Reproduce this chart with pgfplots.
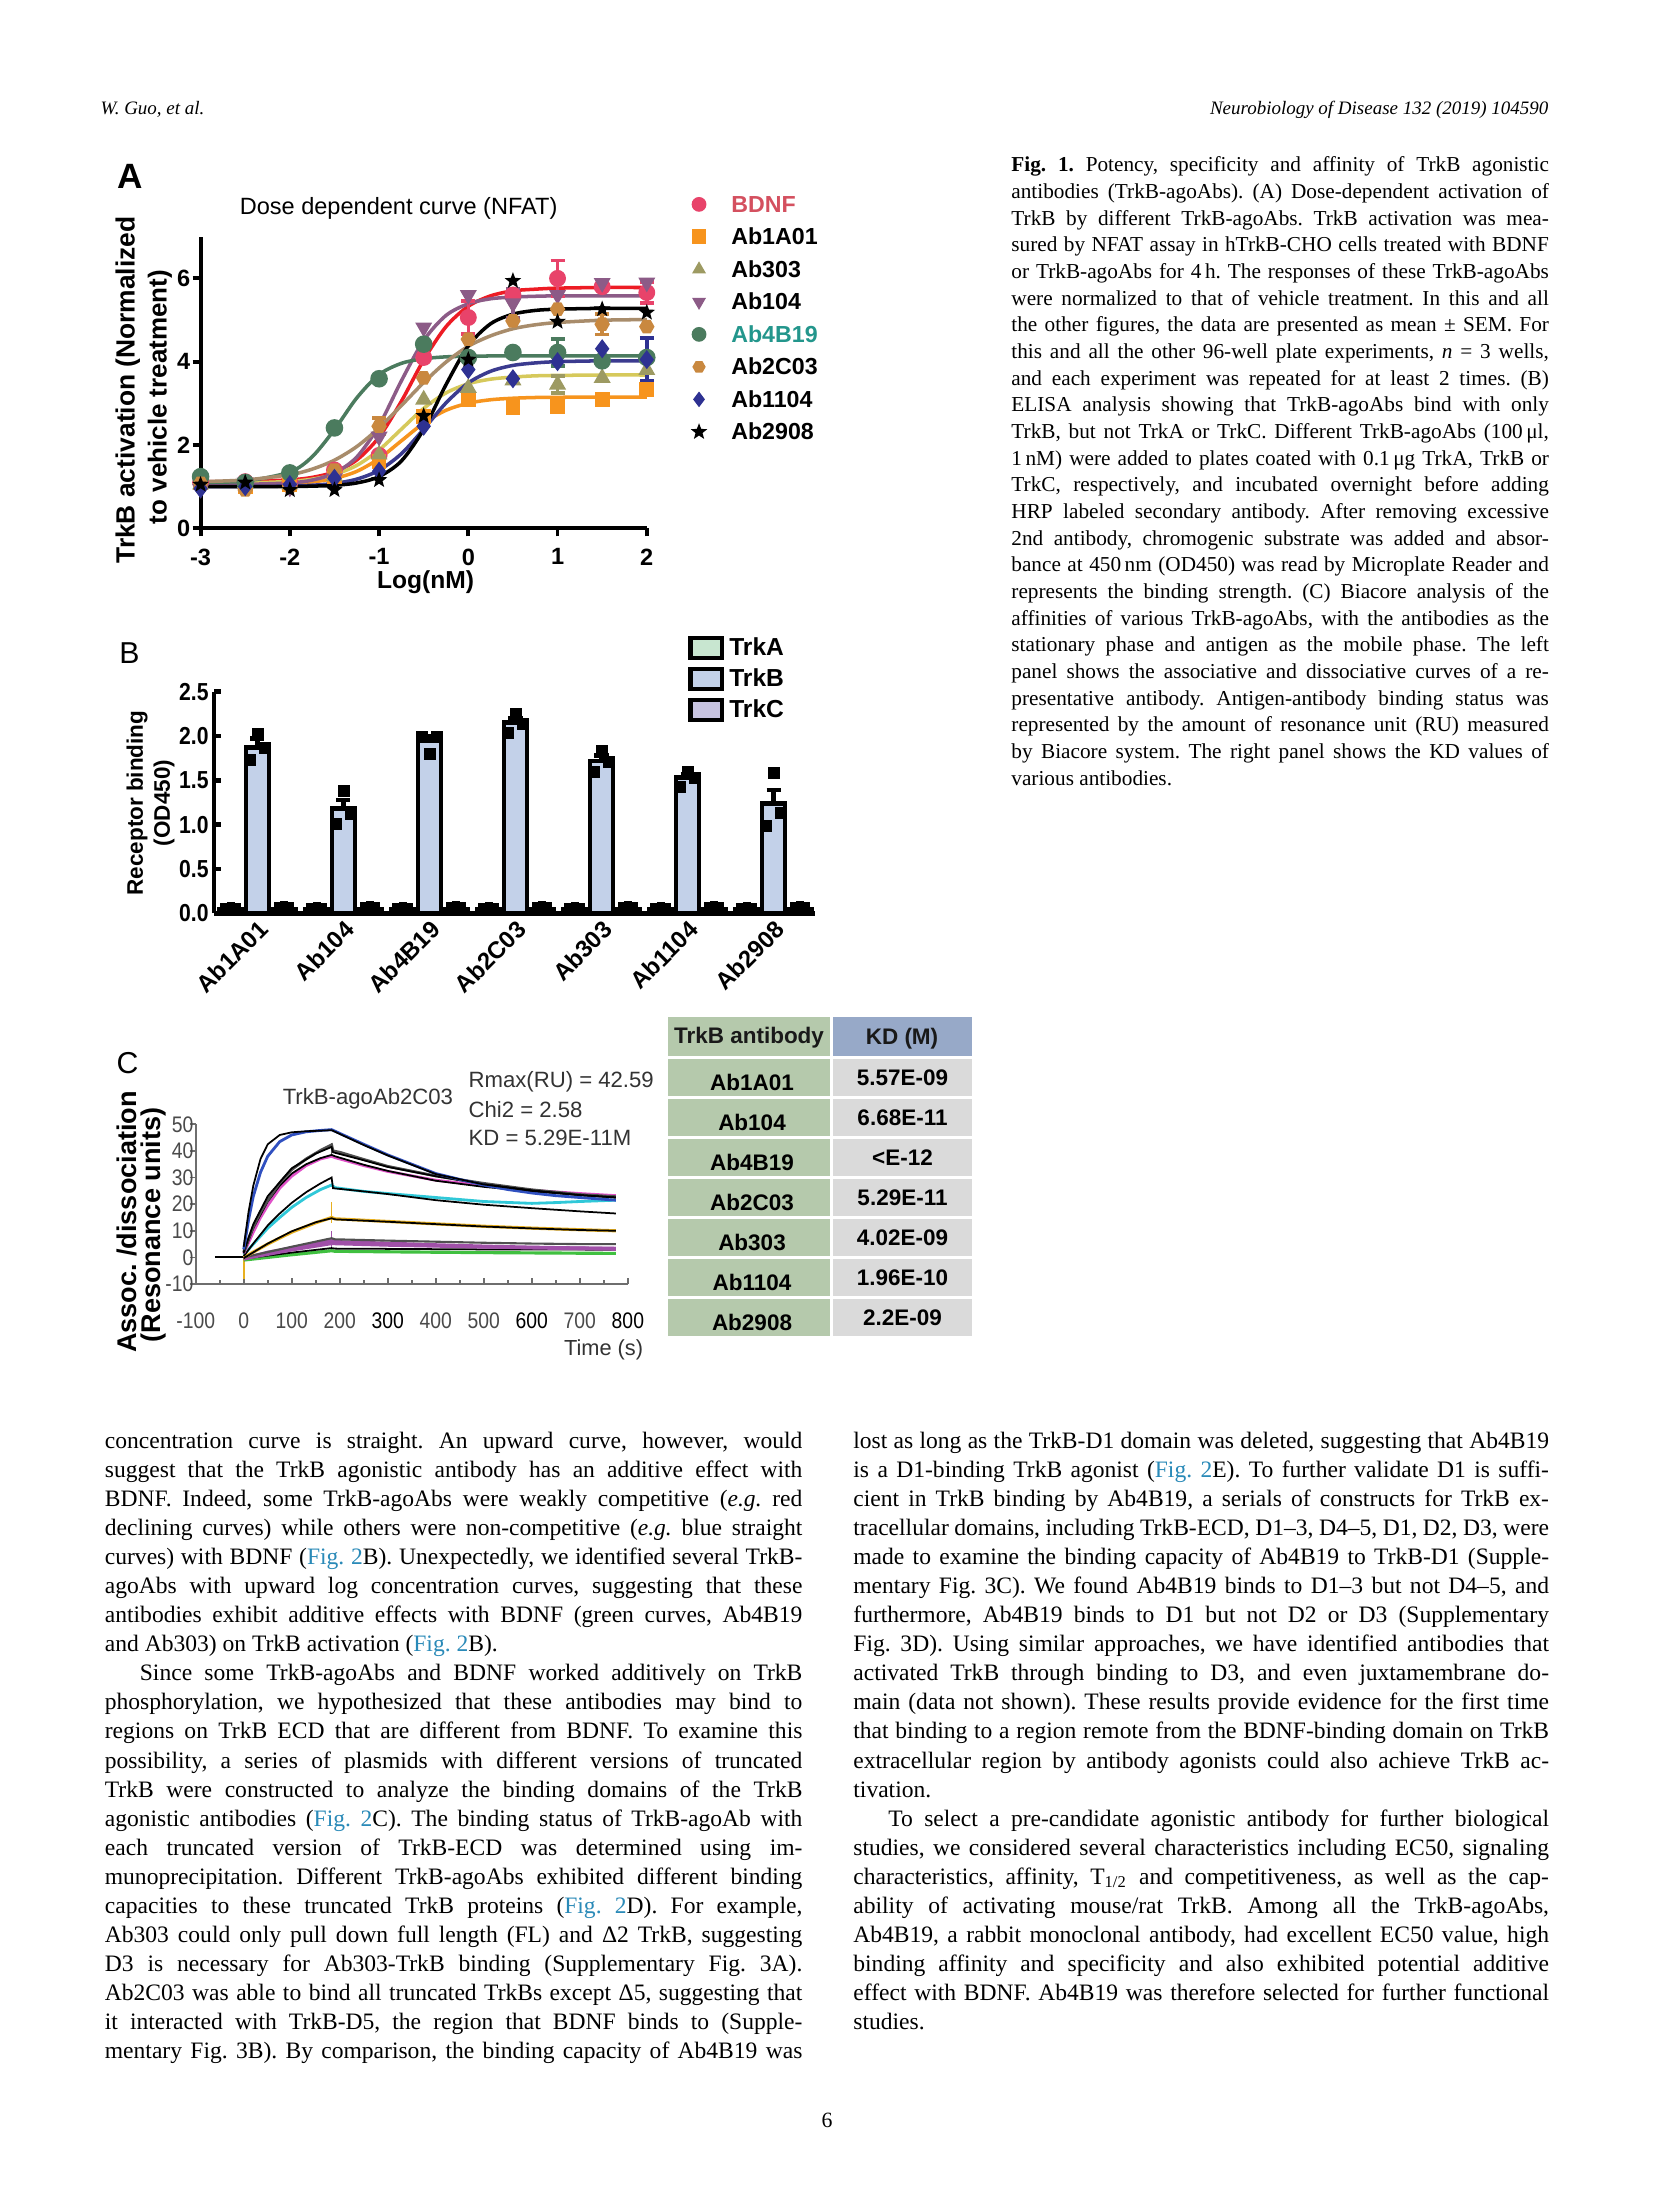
\documentclass[border=0pt]{standalone}
\usepackage{fontspec}
\setmainfont{Liberation Serif}
\newfontfamily\sans{Liberation Sans}
\newfontfamily\sansn[FakeStretch=0.86]{Liberation Sans}
\usepackage{xcolor}
\usepackage{pgfplots}
\pgfplotsset{compat=1.18}
\usetikzlibrary{plotmarks}
\frenchspacing

\definecolor{bdnfm}{HTML}{E8436A}
\definecolor{bdnfl}{HTML}{ED1C24}
\definecolor{bdnftxt}{HTML}{D4505F}
\definecolor{orgm}{HTML}{F7941D}
\definecolor{olvm}{HTML}{9D9A62}
\definecolor{olvl}{HTML}{D6C95B}
\definecolor{mauve}{HTML}{8C5B87}
\definecolor{grnm}{HTML}{4B7B5E}
\definecolor{tealtxt}{HTML}{23968C}
\definecolor{tanm}{HTML}{C9883F}
\definecolor{tanl}{HTML}{A88C6B}
\definecolor{navy}{HTML}{2E3192}
\definecolor{navyl}{HTML}{3B3B8F}
\definecolor{trka}{HTML}{C8E6D0}
\definecolor{trkb}{HTML}{C3D1E9}
\definecolor{trkc}{HTML}{C7C3E0}
\definecolor{cg}{HTML}{4A4A4A}
\definecolor{ctx}{HTML}{333333}
\definecolor{cax}{HTML}{6E6E6E}
\definecolor{cblue}{HTML}{3050C0}
\definecolor{cdark}{HTML}{505050}
\definecolor{cpink}{HTML}{E050C8}
\definecolor{ccyan}{HTML}{30C8D8}
\definecolor{cyel}{HTML}{E8B020}
\definecolor{cpur}{HTML}{A050A8}
\definecolor{cgrn}{HTML}{40C040}
\definecolor{tgreen}{HTML}{B5C9AC}
\definecolor{tblue}{HTML}{97A9C8}
\definecolor{tgray}{HTML}{DADADA}
\definecolor{linkblue}{HTML}{2A8AB8}

% filled five-pointed star and hexagon marks
\pgfdeclareplotmark{fstar}{%
  \pgfpathmoveto{\pgfpointpolar{90}{1.3\pgfplotmarksize}}%
  \pgfpathlineto{\pgfpointpolar{126}{0.55\pgfplotmarksize}}%
  \pgfpathlineto{\pgfpointpolar{162}{1.3\pgfplotmarksize}}%
  \pgfpathlineto{\pgfpointpolar{198}{0.55\pgfplotmarksize}}%
  \pgfpathlineto{\pgfpointpolar{234}{1.3\pgfplotmarksize}}%
  \pgfpathlineto{\pgfpointpolar{270}{0.55\pgfplotmarksize}}%
  \pgfpathlineto{\pgfpointpolar{306}{1.3\pgfplotmarksize}}%
  \pgfpathlineto{\pgfpointpolar{342}{0.55\pgfplotmarksize}}%
  \pgfpathlineto{\pgfpointpolar{18}{1.3\pgfplotmarksize}}%
  \pgfpathlineto{\pgfpointpolar{54}{0.55\pgfplotmarksize}}%
  \pgfpathclose\pgfusepathqfill}
\pgfdeclareplotmark{hex}{%
  \pgfpathmoveto{\pgfpointpolar{0}{\pgfplotmarksize}}%
  \pgfpathlineto{\pgfpointpolar{60}{\pgfplotmarksize}}%
  \pgfpathlineto{\pgfpointpolar{120}{\pgfplotmarksize}}%
  \pgfpathlineto{\pgfpointpolar{180}{\pgfplotmarksize}}%
  \pgfpathlineto{\pgfpointpolar{240}{\pgfplotmarksize}}%
  \pgfpathlineto{\pgfpointpolar{300}{\pgfplotmarksize}}%
  \pgfpathclose\pgfusepathqfill}

\pgfplotsset{
  eb/.style={error bars/.cd, y dir=both, y explicit,
    error bar style={line width=1pt, #1},
    error mark options={rotate=90, mark size=2pt, line width=1pt, #1}},
  fit/.style={smooth, line width=1pt, #1, forget plot},
}

% text lines: body (left/right), caption
\newcommand\fig{\textcolor{linkblue}{Fig.~2}}
\newcommand\BL[2]{\node[anchor=base west,inner sep=0pt] at (104.2,{1448.3+29.06*#1}) {\makebox[69.75mm][s]{#2}};}
\newcommand\BLi[2]{\node[anchor=base west,inner sep=0pt] at (139.2,{1448.3+29.06*#1}) {\makebox[66.25mm][s]{#2}};}
\newcommand\BLe[2]{\node[anchor=base west,inner sep=0pt] at (104.2,{1448.3+29.06*#1}) {#2};}
\newcommand\BR[2]{\node[anchor=base west,inner sep=0pt] at (852.7,{1448.3+29.06*#1}) {\makebox[69.56mm][s]{#2}};}
\newcommand\BRi[2]{\node[anchor=base west,inner sep=0pt] at (887.7,{1448.3+29.06*#1}) {\makebox[66.06mm][s]{#2}};}
\newcommand\BRe[2]{\node[anchor=base west,inner sep=0pt] at (852.7,{1448.3+29.06*#1}) {#2};}
\newcommand\CL[2]{\node[anchor=base west,inner sep=0pt] at (1010.7,{171.7+26.67*#1}) {\makebox[53.75mm][s]{#2}};}
\newcommand\CLe[2]{\node[anchor=base west,inner sep=0pt] at (1010.7,{171.7+26.67*#1}) {#2};}

\begin{document}
\begin{tikzpicture}
\path[use as bounding box, fill=white] (0,0) rectangle (165.4mm,-220.5mm);

% ---------------- Panel A ----------------
\begin{axis}[
  at={(20.06mm,-52.83mm)}, anchor=south west,
  scale only axis, width=44.62mm, height=29.16mm,
  xmin=-3, xmax=2, ymin=0, ymax=7,
  axis x line=bottom, axis y line=left,
  axis line style={-, line width=1.1pt},
  xtick={-3,-2,-1,0,1,2}, xticklabels={-3,-2,-1,0,1,2},
  ytick={0,2,4,6}, yticklabels={0,2,4,6},
  tick align=outside, major tick length=0.8mm,
  tick style={line width=1.1pt, black},
  tick label style={font=\sans\bfseries\fontsize{6.7}{8}\selectfont},
  yticklabel style={xshift=1mm},
  clip=false,
  legend cell align=left,
  legend image code/.code={\draw[#1, mark size=1.9pt] plot coordinates {(0mm,0mm)};},
  legend style={at={(1.097,1.169)}, anchor=north west, draw=none, fill=none,
    inner sep=0pt, row sep=0pt,
    font=\sans\bfseries\fontsize{6.6}{7}\selectfont,
    nodes={inner sep=0pt, text height=2.4mm, text depth=0.85mm},
    /tikz/every odd column/.append style={column sep=2.4mm}},
]
% fitted curves
\addplot[fit=bdnfl] coordinates {(-3,1.12)(-2.5,1.128)(-2,1.163)(-1.75,1.222)(-1.5,1.355)(-1.25,1.64)(-1,2.19)(-0.75,3.05)(-0.5,4.04)(-0.25,4.84)(0,5.33)(0.25,5.58)(0.5,5.70)(0.75,5.74)(1,5.765)(1.5,5.78)(2,5.78)};
\addplot[fit=orgm] coordinates {(-3,1.05)(-2.5,1.055)(-2,1.078)(-1.75,1.114)(-1.5,1.197)(-1.25,1.367)(-1,1.674)(-0.75,2.10)(-0.5,2.526)(-0.25,2.833)(0,3.003)(0.25,3.086)(0.5,3.122)(0.75,3.14)(1,3.145)(1.5,3.15)(2,3.15)};
\addplot[fit=olvl] coordinates {(-3,1.08)(-2.5,1.089)(-2,1.126)(-1.75,1.18)(-1.5,1.293)(-1.25,1.51)(-1,1.88)(-0.75,2.38)(-0.5,2.88)(-0.25,3.25)(0,3.47)(0.25,3.58)(0.5,3.63)(0.75,3.66)(1,3.67)(1.5,3.68)(2,3.68)};
\addplot[fit=mauve] coordinates {(-3,1.05)(-2.5,1.056)(-2,1.09)(-1.75,1.157)(-1.5,1.325)(-1.25,1.71)(-1,2.47)(-0.75,3.54)(-0.5,4.51)(-0.25,5.11)(0,5.39)(0.25,5.51)(0.5,5.55)(0.75,5.57)(1,5.58)(1.5,5.58)(2,5.58)};
\addplot[fit=grnm] coordinates {(-3,1.105)(-2.5,1.134)(-2,1.352)(-1.75,1.717)(-1.5,2.37)(-1.25,3.13)(-1,3.69)(-0.75,3.96)(-0.5,4.07)(-0.25,4.116)(0,4.13)(0.25,4.137)(0.5,4.14)(0.75,4.14)(1,4.14)(1.5,4.14)(2,4.14)};
\addplot[fit=tanl] coordinates {(-3,1.12)(-2.5,1.161)(-2,1.287)(-1.75,1.42)(-1.5,1.636)(-1.25,1.962)(-1,2.41)(-0.75,2.947)(-0.5,3.50)(-0.25,3.99)(0,4.37)(0.25,4.62)(0.5,4.79)(0.75,4.885)(1,4.94)(1.5,4.995)(2,5.01)};
\addplot[fit=navyl] coordinates {(-3,1.0)(-2.5,1.0025)(-2,1.014)(-1.75,1.034)(-1.5,1.078)(-1.25,1.18)(-1,1.393)(-0.75,1.79)(-0.5,2.38)(-0.25,3.01)(0,3.49)(0.25,3.77)(0.5,3.91)(0.75,3.97)(1,4.0)(1.5,4.02)(2,4.02)};
\addplot[fit=black] coordinates {(-3,1.0)(-2.5,1.0)(-2,1.004)(-1.75,1.012)(-1.5,1.032)(-1.25,1.089)(-1,1.241)(-0.75,1.616)(-0.5,2.377)(-0.25,3.448)(0,4.38)(0.25,4.91)(0.5,5.14)(0.75,5.23)(1,5.26)(1.5,5.28)(2,5.28)};
% measured points
\addplot[only marks, mark=*, mark size=2.2pt, color=bdnfm, eb=bdnfm] coordinates {(-3,1.1)(-2.5,1.12)(-2,1.1)(-1.5,1.4)(-1,1.75)(-0.5,4.1)(0,5.06) +- (0,0.4) (0.5,5.6)(1,6.0) +- (0,0.43) (1.5,5.8)(2,5.66) +- (0,0.25)};
\addlegendentry{\textcolor{bdnftxt}{BDNF}}
\addplot[only marks, mark=square*, mark size=1.9pt, color=orgm, eb=orgm] coordinates {(-3,1.1)(-2.5,1.0)(-2,1.05)(-1.5,1.24)(-1,1.6)(-0.5,2.69)(0,3.1)(0.5,2.93) +- (0,0.17) (1,2.93)(1.5,3.09)(2,3.33)};
\addlegendentry{Ab1A01}
\addplot[only marks, mark=triangle*, mark size=2.4pt, color=olvm, eb=olvm] coordinates {(-3,1.05)(-2.5,1.08)(-2,1.05)(-1.5,1.25)(-1,1.77)(-0.5,3.09)(0,3.37)(0.5,3.55)(1,3.45) +- (0,0.2) (1.5,3.61)(2,3.8)};
\addlegendentry{Ab303}
\addplot[only marks, mark=triangle*, mark options={rotate=180}, mark size=2.4pt, color=mauve, eb=mauve] coordinates {(-3,0.95)(-2.5,1.1)(-2,0.98)(-1.5,1.2)(-1,2.2)(-0.5,4.82)(0,5.6)(0.5,5.4) +- (0,0.35) (1,5.6)(1.5,5.89)(2,5.9)};
\addlegendentry{Ab104}
\addplot[only marks, mark=*, mark size=2.3pt, color=grnm, eb=grnm] coordinates {(-3,1.24)(-2.5,1.1)(-2,1.33)(-1.5,2.41)(-1,3.59)(-0.5,4.42)(0,4.1)(0.5,4.22)(1,4.22) +- (0,0.32) (1.5,4.02)(2,4.1)};
\addlegendentry{\textcolor{tealtxt}{Ab4B19}}
\addplot[only marks, mark=hex, mark size=2.2pt, color=tanm, eb=tanm] coordinates {(-3,1.08)(-2.5,0.92)(-2,1.0)(-1.5,1.4)(-1,2.45) +- (0,0.2) (-0.5,3.61)(0,4.54)(0.5,4.98)(1,5.26)(1.5,4.9) +- (0,0.25) (2,4.84)};
\addlegendentry{Ab2C03}
\addplot[only marks, mark=diamond*, mark size=2.4pt, color=navy, eb=navy] coordinates {(-3,0.95)(-2.5,1.0)(-2,1.05)(-1.5,1.2)(-1,1.37)(-0.5,2.45)(0,3.81)(0.5,3.59)(1,4.0)(1.5,4.31)(2,4.05) +- (0,0.52)};
\addlegendentry{Ab1104}
\addplot[only marks, mark=fstar, mark size=1.9pt, color=black, eb=black] coordinates {(-3,1.05)(-2.5,1.1)(-2,0.92)(-1.5,0.92)(-1,1.16)(-0.5,2.7)(0,4.05)(0.5,5.94)(1,4.96)(1.5,5.26)(2,5.18)};
\addlegendentry{Ab2908}
\end{axis}

% ---------------- Panel B ----------------
\begin{axis}[
  at={(21.4mm,-91.33mm)}, anchor=south west,
  scale only axis, width=60.06mm, height=22.16mm,
  xmin=-0.5045, xmax=6.477, ymin=0, ymax=2.5,
  axis x line=bottom, axis y line=left,
  axis line style={-, line width=1.4pt},
  xtick={0,...,6}, xticklabels={Ab1A01,Ab104,Ab4B19,Ab2C03,Ab303,Ab1104,Ab2908},
  xtick style={draw=none},
  ytick={0,0.5,1,1.5,2,2.5}, yticklabels={0.0,0.5,1.0,1.5,2.0,2.5},
  tick align=inside, major tick length=0.7mm,
  ytick style={line width=1.4pt, black},
  yticklabel style={font=\sansn\bfseries\fontsize{7}{8}\selectfont, xshift=0.7mm},
  xticklabel style={font=\sans\bfseries\fontsize{6.8}{8}\selectfont, rotate=45, anchor=north east, inner sep=1pt},
  clip=false,
  legend cell align=left,
  legend style={at={(0.7884,1.2694)}, anchor=north west, draw=none, fill=none,
    inner sep=0pt, row sep=0pt,
    font=\sans\bfseries\fontsize{7}{8}\selectfont,
    nodes={inner sep=0pt, text height=2.3mm, text depth=0.8mm},
    /tikz/every odd column/.append style={column sep=0.5mm}},
]
\addlegendimage{legend image code/.code={\draw[line width=1.3pt, fill=trka] (0mm,-1mm) rectangle (3.15mm,1mm);}}
\addlegendentry{TrkA}
\addlegendimage{legend image code/.code={\draw[line width=1.3pt, fill=trkb] (0mm,-1mm) rectangle (3.15mm,1mm);}}
\addlegendentry{TrkB}
\addlegendimage{legend image code/.code={\draw[line width=1.3pt, fill=trkc] (0mm,-1mm) rectangle (3.15mm,1mm);}}
\addlegendentry{TrkC}
\addplot[ybar, bar width=2.3mm, bar shift=-2.7mm, fill=trka, draw=black, line width=1.3pt, forget plot]
  coordinates {(0,0.05)(1,0.05)(2,0.05)(3,0.05)(4,0.05)(5,0.05)(6,0.05)};
\addplot[ybar, bar width=2.3mm, bar shift=0mm, fill=trkb, draw=black, line width=1.3pt, forget plot,
  error bars/.cd, y dir=plus, y explicit, error bar style={line width=1.3pt, black},
  error mark options={rotate=90, mark size=2pt, line width=1.3pt, black}]
  coordinates {(0,1.87) +- (0,0.1) (1,1.18) +- (0,0.1) (2,1.95) +- (0,0.05) (3,2.15) +- (0,0.05) (4,1.72) +- (0,0.06) (5,1.53) +- (0,0.04) (6,1.24) +- (0,0.15)};
\addplot[ybar, bar width=2.3mm, bar shift=2.7mm, fill=trkc, draw=black, line width=1.3pt, forget plot]
  coordinates {(0,0.05)(1,0.05)(2,0.05)(3,0.05)(4,0.05)(5,0.05)(6,0.05)};
% individual wells
\addplot[only marks, mark=square*, mark size=1.5pt, black, forget plot] coordinates {
  (-0.087,1.73)(0.01,2.02)(0.09,1.86)
  (0.913,1.01)(1.01,1.38)(1.09,1.12)
  (1.913,1.99)(2.01,1.80)(2.09,1.99)
  (2.913,2.03)(3.01,2.25)(3.09,2.14)
  (3.913,1.59)(4.01,1.83)(4.09,1.71)
  (4.913,1.42)(5.01,1.60)(5.09,1.53)
  (5.913,0.99)(6.01,1.58)(6.09,1.13)};
\addplot[only marks, mark=square*, mark size=0.9pt, black, forget plot] coordinates {
  (-0.39,0.07)(-0.31,0.08)(-0.24,0.07)(0.24,0.08)(0.31,0.09)(0.38,0.08)
  (0.61,0.07)(0.69,0.08)(0.76,0.07)(1.24,0.08)(1.31,0.09)(1.38,0.08)
  (1.61,0.07)(1.69,0.08)(1.76,0.07)(2.24,0.08)(2.31,0.09)(2.38,0.08)
  (2.61,0.07)(2.69,0.08)(2.76,0.07)(3.24,0.08)(3.31,0.09)(3.38,0.08)
  (3.61,0.07)(3.69,0.08)(3.76,0.07)(4.24,0.08)(4.31,0.09)(4.38,0.08)
  (4.61,0.07)(4.69,0.08)(4.76,0.07)(5.24,0.08)(5.31,0.09)(5.38,0.08)
  (5.61,0.07)(5.69,0.08)(5.76,0.07)(6.24,0.08)(6.31,0.09)(6.38,0.08)};
\end{axis}

% ---------------- Panel C ----------------
\begin{axis}[
  at={(19.57mm,-128.4mm)}, anchor=south west,
  scale only axis, width=43.22mm, height=15.97mm,
  xmin=-100, xmax=800, ymin=-10, ymax=50,
  axis x line=bottom, axis y line=left,
  axis line style={-, cax, line width=0.6pt},
  xtick={-100,0,100,200,300,400,500,600,700,800},
  minor xtick={-50,50,150,250,350,450,550,650,750},
  xticklabels={\textcolor{cg}{-100},\textcolor{cg}{0},\textcolor{cg}{100},\textcolor{cg}{200},300,\textcolor{cg}{400},\textcolor{cg}{500},600,\textcolor{cg}{700},800},
  ytick={-10,0,10,20,30,40,50}, yticklabels={-10,0,10,20,30,40,50},
  tick align=inside, major tick length=0.6mm, minor tick length=0.4mm,
  tick style={cax, line width=0.5pt},
  ytick style={xshift=-0.6mm},
  xticklabel style={font=\sansn\fontsize{6.4}{7}\selectfont, yshift=-1.6mm},
  yticklabel style={font=\sansn\fontsize{6.4}{7}\selectfont, text=cg, xshift=1mm},
  clip=false,
]
\addplot[black, line width=0.6pt] coordinates {(-60,0)(0,0)};
\addplot[cyel, line width=0.5pt] coordinates {(0,-8)(0,4)};
\addplot[cyel, line width=0.5pt] coordinates {(183,13)(183,21)};
\addplot[cpur, line width=0.5pt] coordinates {(183,4)(183,10)};
\addplot[cdark, line width=0.5pt] coordinates {(183,38)(183,43)};
% level 7
\addplot[cgrn, line width=0.9pt] coordinates {(0,-1)(100,1)(183,2.5)(190,2.3)(300,2.1)(500,1.8)(775,1.5)};
\addplot[black, line width=0.5pt] coordinates {(0,-0.5)(100,1.8)(183,3.5)(190,3.3)(300,3.2)(500,3)(775,2.9)};
% level 6
\addplot[cpur, line width=1.1pt] coordinates {(0,-0.5)(50,1.8)(100,3.5)(150,5.2)(183,6.2)(190,5.8)(300,5.2)(400,4.6)(500,4.1)(600,3.7)(700,3.4)(775,3.2)};
\addplot[cpur, line width=0.9pt] coordinates {(0,-0.5)(100,2.8)(183,5.2)(300,4.6)(500,3.9)(775,3.4)};
\addplot[cdark, line width=0.6pt] coordinates {(0,0)(100,4)(183,7.2)(190,6.8)(300,6.3)(400,5.9)(500,5.5)(600,5.2)(700,5)(775,5)};
% level 5
\addplot[cyel, line width=0.9pt] coordinates {(0,0)(50,5)(100,9.5)(150,13)(183,15)(190,14.5)(300,13.5)(400,12.6)(500,11.7)(600,11)(700,10.4)(775,10)};
\addplot[black, line width=0.5pt] coordinates {(0,-0.3)(50,5.2)(100,9.8)(150,13.2)(183,14.7)(190,14.3)(300,13.4)(400,12.5)(500,11.6)(600,10.9)(700,10.3)(775,10)};
% level 4
\addplot[ccyan, line width=0.8pt] coordinates {(0,1)(20,5)(50,11)(75,15)(100,18.8)(130,22.5)(160,25.5)(183,27.2)(190,26.2)(250,24.8)(300,24)(400,22.5)(500,21)(600,20.3)(650,20.6)(700,21)(775,21.5)};
\addplot[black, line width=0.5pt] coordinates {(0,0.5)(20,5.2)(50,12)(75,16.5)(100,20.5)(130,24.5)(160,27.8)(183,30)(186,26)(250,24.8)(300,23.8)(400,21.5)(500,19.8)(600,18.5)(700,17.3)(775,16.5)};
% level 3
\addplot[cpink, line width=0.8pt] coordinates {(0,1.5)(10,5.5)(20,9.5)(35,15)(50,19.5)(75,26)(100,30.5)(130,34.5)(160,37)(183,38)(190,37.5)(250,34.5)(300,32.3)(400,29)(500,27)(600,25.2)(700,24)(775,23.2)};
\addplot[black, line width=0.5pt] coordinates {(0,1.5)(20,11)(50,21)(75,27)(100,31.5)(130,35)(160,37.3)(183,38.5)(190,38)(250,34.8)(300,32.5)(400,28.8)(500,26.5)(600,24.8)(700,23.5)(775,22.8)};
% level 2
\addplot[cdark, line width=0.8pt] coordinates {(0,2)(10,7)(20,11.5)(35,17)(50,21.5)(75,28)(100,33)(130,37)(160,40.2)(183,42.3)(186,40)(200,39.5)(250,36.8)(300,34.2)(400,30.6)(500,27.8)(600,25.4)(700,23.6)(775,22.8)};
\addplot[black, line width=0.5pt] coordinates {(0,2)(20,12.5)(50,23)(100,33.5)(150,39)(183,41.5)(186,39.5)(250,36.5)(300,34)(400,30.5)(500,27.5)(600,25.2)(700,23.4)(775,22.5)};
% level 1
\addplot[cblue, line width=0.8pt] coordinates {(0,3)(10,14)(20,23)(35,32)(50,38)(75,43.5)(100,46)(130,47.2)(160,47.7)(183,48)(200,46.6)(250,42.5)(300,38.5)(350,35)(400,31.5)(450,29.3)(500,27.2)(550,25.5)(600,24.2)(650,23.2)(700,22.5)(775,21.5)};
\addplot[black, line width=0.5pt] coordinates {(0,4)(10,17)(20,27)(35,37)(50,42.5)(75,46)(100,47)(130,47.4)(160,47.6)(183,47.8)(250,42.2)(300,38.3)(400,31.3)(500,27.4)(600,25)(700,23.4)(775,22.5)};
\end{axis}

\begin{scope}[x=0.1mm, y=-0.1mm]
% running head and page number
\node[anchor=base west, inner sep=0pt, font=\itshape\fontsize{5.4}{6}\selectfont] at (100,114) {W. Guo, et al.};
\node[anchor=base east, inner sep=0pt, font=\itshape\fontsize{5.4}{6}\selectfont] at (1549,114) {Neurobiology of Disease 132 (2019) 104590};
\node[font=\fontsize{6.2}{7}\selectfont] at (827,2120) {6};

% panel A texts
\node[anchor=base west, inner sep=0pt, font=\sans\bfseries\fontsize{10}{12}\selectfont] at (117,188) {A};
\node[font=\sans\fontsize{6.7}{8}\selectfont] at (398.6,208) {Dose dependent curve (NFAT)};
\node[font=\sans\bfseries\fontsize{7}{8}\selectfont] at (425.6,581.7) {Log(nM)};
\node[rotate=90, font=\sans\bfseries\fontsize{7.5}{8}\selectfont] at (127.7,390) {TrkB activation (Normalized};
\node[rotate=90, font=\sans\bfseries\fontsize{7.4}{8}\selectfont] at (160,397) {to vehicle treatment)};

% panel B texts
\node[anchor=base west, inner sep=0pt, font=\sans\fontsize{8.6}{10}\selectfont] at (118.6,663) {B};
\node[rotate=90, font=\sans\bfseries\fontsize{6.4}{8}\selectfont] at (137,803) {Receptor binding};
\node[rotate=90, font=\sans\bfseries\fontsize{6.4}{8}\selectfont] at (164,803) {(OD450)};

% panel C texts
\node[anchor=base west, inner sep=0pt, font=\sans\fontsize{8.6}{10}\selectfont] at (116,1073) {C};
\node[rotate=90, font=\sans\bfseries\fontsize{7.7}{8}\selectfont] at (126.8,1222) {Assoc. /dissociation};
\node[rotate=90, font=\sans\bfseries\fontsize{7.7}{8}\selectfont] at (153.6,1225) {(Resonance units)};
\node[font=\sans\fontsize{6.2}{7}\selectfont, text=ctx] at (603.6,1350) {Time (s)};
\node[font=\sans\fontsize{6.3}{7}\selectfont, text=ctx] at (367.9,1098.3) {TrkB-agoAb2C03};
\node[anchor=west, inner sep=0pt, font=\sans\fontsize{6.3}{7}\selectfont, text=ctx] at (467.9,1081.7) {Rmax(RU) = 42.59};
\node[anchor=west, inner sep=0pt, font=\sans\fontsize{6.3}{7}\selectfont, text=ctx] at (467.9,1110) {Chi2 = 2.58};
\node[anchor=west, inner sep=0pt, font=\sans\fontsize{6.3}{7}\selectfont, text=ctx] at (467.9,1138.3) {KD = 5.29E-11M};

% KD table
\fill[tgreen] (668,1017) rectangle (830,1056);
\fill[tblue] (833,1017) rectangle (972,1056);
\foreach \i in {0,...,6} {
  \fill[tgreen] (668,{1059.3+40*\i}) rectangle (830,{1096.3+40*\i});
  \fill[tgray] (833,{1059.3+40*\i}) rectangle (972,{1096.3+40*\i});
}
\begin{scope}[font=\sans\bfseries\fontsize{6.4}{7}\selectfont]
\node[text=black!90] at (749,1038) {TrkB antibody};
\node[text=black!90] at (902,1039) {KD (M)};
\foreach \n/\v [count=\i from 0] in {Ab1A01/5.57E-09, Ab104/6.68E-11, Ab4B19/<E-12, Ab2C03/5.29E-11, Ab303/4.02E-09, Ab1104/1.96E-10, Ab2908/2.2E-09} {
  \node at (752,{1082+40*\i}) {\n};
  \node at (902.5,{1078+40*\i}) {\v};
}
\end{scope}

% caption
\begin{scope}[font=\fontsize{6.05}{7}\selectfont]
\CL{0}{\textbf{Fig. 1.} Potency, specificity and affinity of TrkB agonistic}
\CL{1}{antibodies (TrkB-agoAbs). (A) Dose-dependent activation of}
\CL{2}{TrkB by different TrkB-agoAbs. TrkB activation was mea-}
\CL{3}{sured by NFAT assay in hTrkB-CHO cells treated with BDNF}
\CL{4}{or TrkB-agoAbs for 4\,h. The responses of these TrkB-agoAbs}
\CL{5}{were normalized to that of vehicle treatment. In this and all}
\CL{6}{the other figures, the data are presented as mean ± SEM. For}
\CL{7}{this and all the other 96-well plate experiments, \textit{n} = 3 wells,}
\CL{8}{and each experiment was repeated for at least 2 times. (B)}
\CL{9}{ELISA analysis showing that TrkB-agoAbs bind with only}
\CL{10}{TrkB, but not TrkA or TrkC. Different TrkB-agoAbs (100\,μl,}
\CL{11}{1\,nM) were added to plates coated with 0.1\,μg TrkA, TrkB or}
\CL{12}{TrkC, respectively, and incubated overnight before adding}
\CL{13}{HRP labeled secondary antibody. After removing excessive}
\CL{14}{2nd antibody, chromogenic substrate was added and absor-}
\CL{15}{bance at 450\,nm (OD450) was read by Microplate Reader and}
\CL{16}{represents the binding strength. (C) Biacore analysis of the}
\CL{17}{affinities of various TrkB-agoAbs, with the antibodies as the}
\CL{18}{stationary phase and antigen as the mobile phase. The left}
\CL{19}{panel shows the associative and dissociative curves of a re-}
\CL{20}{presentative antibody. Antigen-antibody binding status was}
\CL{21}{represented by the amount of resonance unit (RU) measured}
\CL{22}{by Biacore system. The right panel shows the KD values of}
\CLe{23}{various antibodies.}
\end{scope}

% body text
\begin{scope}[font=\fontsize{6.7}{8}\selectfont]
\BL{0}{concentration curve is straight. An upward curve, however, would}
\BL{1}{suggest that the TrkB agonistic antibody has an additive effect with}
\BL{2}{BDNF. Indeed, some TrkB-agoAbs were weakly competitive (\textit{e.g.} red}
\BL{3}{declining curves) while others were non-competitive (\textit{e.g.} blue straight}
\BL{4}{curves) with BDNF (\fig B). Unexpectedly, we identified several TrkB-}
\BL{5}{agoAbs with upward log concentration curves, suggesting that these}
\BL{6}{antibodies exhibit additive effects with BDNF (green curves, Ab4B19}
\BLe{7}{and Ab303) on TrkB activation (\fig B).}
\BLi{8}{Since some TrkB-agoAbs and BDNF worked additively on TrkB}
\BL{9}{phosphorylation, we hypothesized that these antibodies may bind to}
\BL{10}{regions on TrkB ECD that are different from BDNF. To examine this}
\BL{11}{possibility, a series of plasmids with different versions of truncated}
\BL{12}{TrkB were constructed to analyze the binding domains of the TrkB}
\BL{13}{agonistic antibodies (\fig C). The binding status of TrkB-agoAb with}
\BL{14}{each truncated version of TrkB-ECD was determined using im-}
\BL{15}{munoprecipitation. Different TrkB-agoAbs exhibited different binding}
\BL{16}{capacities to these truncated TrkB proteins (\fig D). For example,}
\BL{17}{Ab303 could only pull down full length (FL) and Δ2 TrkB, suggesting}
\BL{18}{D3 is necessary for Ab303-TrkB binding (Supplementary Fig. 3A).}
\BL{19}{Ab2C03 was able to bind all truncated TrkBs except Δ5, suggesting that}
\BL{20}{it interacted with TrkB-D5, the region that BDNF binds to (Supple-}
\BL{21}{mentary Fig. 3B). By comparison, the binding capacity of Ab4B19 was}

\BR{0}{lost as long as the TrkB-D1 domain was deleted, suggesting that Ab4B19}
\BR{1}{is a D1-binding TrkB agonist (\fig E). To further validate D1 is suffi-}
\BR{2}{cient in TrkB binding by Ab4B19, a serials of constructs for TrkB ex-}
\BR{3}{tracellular domains, including TrkB-ECD, D1–3, D4–5, D1, D2, D3, were}
\BR{4}{made to examine the binding capacity of Ab4B19 to TrkB-D1 (Supple-}
\BR{5}{mentary Fig. 3C). We found Ab4B19 binds to D1–3 but not D4–5, and}
\BR{6}{furthermore, Ab4B19 binds to D1 but not D2 or D3 (Supplementary}
\BR{7}{Fig. 3D). Using similar approaches, we have identified antibodies that}
\BR{8}{activated TrkB through binding to D3, and even juxtamembrane do-}
\BR{9}{main (data not shown). These results provide evidence for the first time}
\BR{10}{that binding to a region remote from the BDNF-binding domain on TrkB}
\BR{11}{extracellular region by antibody agonists could also achieve TrkB ac-}
\BRe{12}{tivation.}
\BRi{13}{To select a pre-candidate agonistic antibody for further biological}
\BR{14}{studies, we considered several characteristics including EC50, signaling}
\BR{15}{characteristics, affinity, T\textsubscript{1/2} and competitiveness, as well as the cap-}
\BR{16}{ability of activating mouse/rat TrkB. Among all the TrkB-agoAbs,}
\BR{17}{Ab4B19, a rabbit monoclonal antibody, had excellent EC50 value, high}
\BR{18}{binding affinity and specificity and also exhibited potential additive}
\BR{19}{effect with BDNF. Ab4B19 was therefore selected for further functional}
\BRe{20}{studies.}
\end{scope}
\end{scope}
\end{tikzpicture}
\end{document}
